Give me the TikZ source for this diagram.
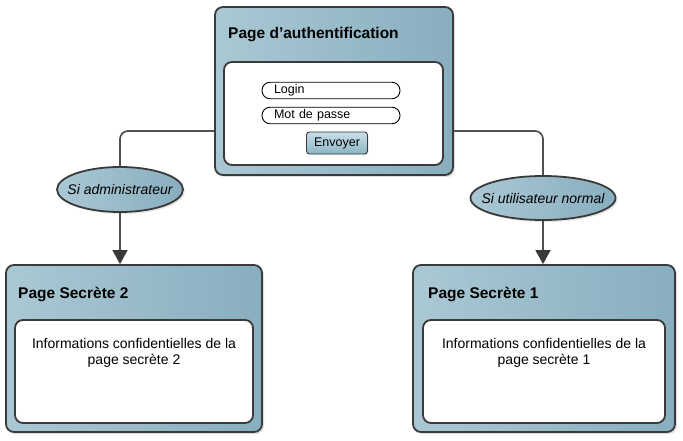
\documentclass[tikz,border=0pt]{standalone}
\usepackage{fontspec}
\setmainfont{Liberation Sans}
\usetikzlibrary{arrows.meta, positioning, shapes.geometric, shadows}
\definecolor{paneltop}{RGB}{170,200,212}
\definecolor{panelbot}{RGB}{136,174,191}
\definecolor{btntop}{RGB}{200,222,231}
\definecolor{btnbot}{RGB}{140,182,198}
\definecolor{edgegray}{RGB}{58,58,58}
\definecolor{linkgray}{RGB}{80,80,80}

\begin{document}
\begin{tikzpicture}[
    x=1pt, y=-1pt,
    >={Triangle[length=14pt, width=15pt, color=edgegray]},
    pagebox/.style={rectangle, rounded corners=8pt, draw=edgegray, line width=1.8pt,
                left color=paneltop, right color=panelbot,
                drop shadow={opacity=0.25, shadow xshift=2pt, shadow yshift=-2pt}},
    contentbox/.style={rectangle, rounded corners=8pt, draw=edgegray, line width=1.8pt,
                fill=white},
    pagetitle/.style={anchor=base west, inner sep=0pt,
                font=\fontsize{15.5}{18}\selectfont\bfseries},
    fieldbox/.style={rectangle, rounded corners=8pt, draw=black, line width=0.9pt,
                fill=white, text width=114pt, inner xsep=12pt, inner ysep=2.5pt,
                text height=9pt, text depth=2.5pt, align=left,
                font=\fontsize{12.5}{14}\selectfont},
    btnbox/.style={rectangle, rounded corners=3pt, draw=edgegray, line width=0.9pt,
                top color=btntop, bottom color=btnbot, minimum width=61pt,
                minimum height=22pt, text height=9pt, text depth=2.5pt,
                font=\fontsize{12.5}{14}\selectfont,
                drop shadow={opacity=0.2, shadow xshift=1pt, shadow yshift=-1pt}},
    condnode/.style={ellipse, draw=edgegray, line width=1.8pt, inner sep=0pt,
                left color=paneltop, right color=panelbot,
                drop shadow={opacity=0.2, shadow xshift=2pt, shadow yshift=-2pt}},
    condtext/.style={inner sep=0pt, font=\fontsize{14}{16}\selectfont\itshape},
    infotxt/.style={align=center, inner sep=0pt,
                font=\fontsize{14}{16}\selectfont},
    link/.style={draw=linkgray, line width=1.7pt, rounded corners=8pt},
]
\useasboundingbox (0,0) rectangle (683,441);
% authentication page
\node[pagebox, minimum width=238pt, minimum height=168pt] (auth) at (334,91) {};
\node[pagetitle] (authtitle) at (228,39) {Page d’authentification};
\node[contentbox, minimum width=219pt, minimum height=103pt] (form) at (333.5,113.5) {};
\node[fieldbox] (login) at (331,90.5) {Login};
\node[fieldbox] (pass) at (331,115.5) {Mot de passe};
\node[btnbox] (send) at (337,143) {Envoyer};
% conditions
\node[condnode, minimum width=126pt, minimum height=45pt,
      label={[condtext]center:Si administrateur}] (admin) at (120,189.5) {};
\node[condnode, minimum width=145pt, minimum height=44pt,
      label={[condtext]center:Si utilisateur normal}] (user) at (543,198) {};
% secret pages
\node[pagebox, minimum width=256pt, minimum height=167pt] (sec2) at (134,348.5) {};
\node[pagetitle] (sec2title) at (18,298) {Page Secrète 2};
\node[contentbox, minimum width=238pt, minimum height=103pt] (sec2info) at (134,371.5) {};
\node[infotxt] (sec2txt) at (134,353) {Informations confidentielles de la\\page secrète 2};
\node[pagebox, minimum width=262pt, minimum height=167pt] (sec1) at (544,348.5) {};
\node[pagetitle] (sec1title) at (428,298) {Page Secrète 1};
\node[contentbox, minimum width=242pt, minimum height=103pt] (sec1info) at (544,371.5) {};
\node[infotxt] (sec1txt) at (544,353) {Informations confidentielles de la\\page secrète 1};
% links
\draw[link] ([yshift=-40pt]auth.west) -| (admin.north);
\draw[link] ([yshift=-40pt]auth.east) -| (user.north);
\draw[link, ->] (admin.south) -- (admin.south |- sec2.north);
\draw[link, ->] (user.south) -- (user.south |- sec1.north);
\end{tikzpicture}
\end{document}
